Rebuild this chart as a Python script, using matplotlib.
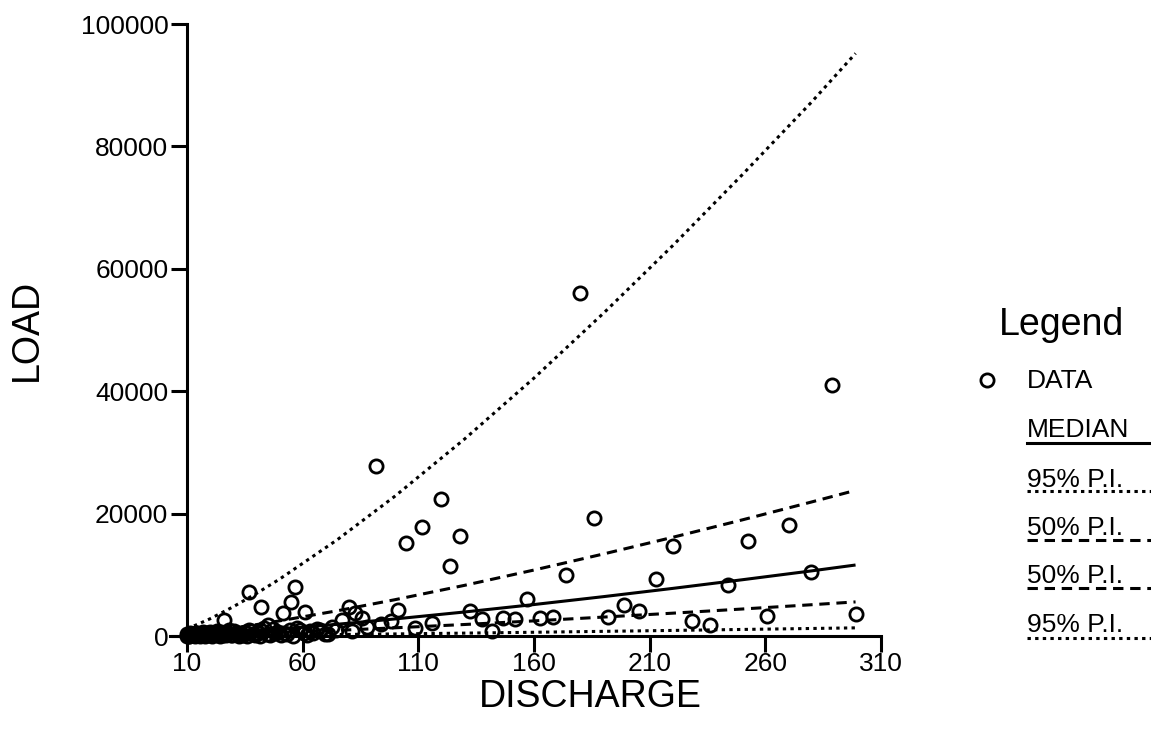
import matplotlib
matplotlib.use('Agg')
import matplotlib.pyplot as plt
from matplotlib.lines import Line2D

plt.rcParams['font.family'] = ['Liberation Sans', 'DejaVu Sans']

# observations (discharge, load)
discharge = [179.9, 289.0, 91.6, 119.7, 111.7, 104.5, 128.0, 123.7, 185.8, 173.8,
             220.2, 252.4, 270.1, 279.6, 299.2, 260.9, 244.0, 212.7, 205.5, 198.9,
             192.1, 168.1, 162.6, 156.9, 151.8, 146.7, 141.7, 137.4, 132.3, 115.8,
             108.6, 101.2, 98.0, 93.7, 88.0, 85.5, 82.6, 79.9, 77.0, 56.7,
             55.0, 61.0, 51.6, 36.8, 42.0, 26.0, 45.1, 228.2, 236.1, 81.2]
load = [56100, 41000, 27780, 22340, 17860, 15250, 16340, 11440, 19330, 9890,
        14710, 15520, 18090, 10510, 3590, 3270, 8330, 9260, 4085, 5065,
        3055, 3055, 2890, 6000, 2780, 2890, 820, 2700, 4130, 2075,
        1360, 4250, 2450, 1960, 1390, 2990, 3810, 4790, 2610, 8000,
        5500, 3920, 3680, 7110, 4660, 2610, 1800, 2420, 1800, 870]

# low-flow samples packed against the origin
low_discharge = [10.2, 10.5, 10.9, 11.3, 11.8, 12.4, 13.0, 13.6, 14.3, 15.0,
                 15.8, 16.5, 17.3, 18.2, 19.0, 20.1, 21.3, 22.5, 23.6, 24.8,
                 26.2, 27.5, 28.9, 30.4, 31.8, 33.5, 35.2, 36.9, 38.7, 40.6,
                 42.5, 44.7, 47.0, 49.3, 52.0, 54.6, 57.5, 60.4, 63.2, 66.0,
                 69.5, 72.8,
                 10.0, 10.7, 11.5, 12.2, 13.3, 14.0, 14.8, 15.5, 16.9, 17.8,
                 18.6, 19.5, 20.7, 21.9, 23.0, 24.2, 25.5, 26.8, 28.2, 29.6,
                 31.1, 32.6, 34.3, 35.9, 37.7, 39.5, 41.5, 43.5, 45.8, 48.0,
                 50.5, 53.2, 56.0, 58.8, 61.8, 64.5, 67.5, 71.0, 74.5]
low_load = [80, 150, 60, 220, 120, 300, 90, 180, 410, 140,
            260, 520, 200, 350, 110, 600, 280, 450, 170, 700,
            330, 520, 240, 810, 420, 300, 620, 950, 380, 520,
            760, 300, 1100, 650, 420, 900, 1300, 550, 820, 1200,
            400, 1500,
            300, 20, 450, 250, 10, 550, 330, 50, 640, 30,
            480, 260, 60, 380, 800, 40, 150, 230, 900, 100,
            560, 50, 200, 40, 880, 150, 60, 1300, 200, 480,
            90, 300, 60, 900, 200, 500, 1000, 250, 900]

# fitted curves
curve_q = [10, 20, 30, 40, 50, 75, 100, 130, 160, 190, 220, 250, 280, 299]
median = [140, 344, 583, 848, 1133, 1920, 2790, 3925, 5140, 6430, 7780, 9190, 10640, 11600]
pi50_hi = [321, 773, 1293, 1861, 2470, 4125, 5940, 8280, 10780, 13400, 16130, 18970, 21900, 23800]
pi50_lo = [67, 165, 280, 407, 545, 920, 1340, 1880, 2470, 3090, 3730, 4410, 5110, 5570]
pi95_hi = [1150, 2820, 4780, 6950, 9290, 15740, 22880, 32190, 42150, 52730, 63800, 75360, 87250, 95200]
pi95_lo = [20, 45, 75, 110, 140, 240, 340, 470, 610, 760, 910, 1070, 1230, 1330]

x_ticks = [10, 60, 110, 160, 210, 260, 310]
y_ticks = [0, 20000, 40000, 60000, 80000, 100000]
legend_labels = ['DATA', 'MEDIAN', '95% P.I.', '50% P.I.', '50% P.I.', '95% P.I.']

W, H = 1151, 731
fig = plt.figure(figsize=(W / 100, H / 100), dpi=100)
ax = fig.add_axes([170 / W, 1 - 636 / H, (881 - 170) / W, (636 - 24) / H])

lw = 2.2
dash = (0, (3.4, 2.2))
dot = (0, (1.1, 1.4))
mk = dict(marker='o', ms=9.5, mfc='none', mec='black', mew=2.0, ls='none')

ax.plot(curve_q, median, color='black', lw=lw, solid_capstyle='butt')
ax.plot(curve_q, pi50_hi, color='black', lw=lw, ls=dash)
ax.plot(curve_q, pi50_lo, color='black', lw=lw, ls=dash)
ax.plot(curve_q, pi95_hi, color='black', lw=lw, ls=dot)
ax.plot(curve_q, pi95_lo, color='black', lw=lw, ls=dot)
ax.plot(discharge + low_discharge, load + low_load, clip_on=False, zorder=3, **mk)

ax.set_xlim(2.65, 310)
ax.set_ylim(0, 100000)
for s in ['top', 'right']:
    ax.spines[s].set_visible(False)
ax.spines['left'].set_position(('data', 10))
for s in ['left', 'bottom']:
    ax.spines[s].set_linewidth(2.2)
ax.set_xticks(x_ticks)
ax.set_xticklabels([str(v) for v in x_ticks])
ax.set_yticks(y_ticks)
ax.set_yticklabels([str(v) for v in y_ticks])
ax.tick_params(length=11.5, width=2.2, labelsize=19, pad=2, direction='out')
ax.tick_params(axis='x', pad=0)

fig.text(27 / W, 1 - 330 / H, 'LOAD', rotation=90, fontsize=27, ha='center', va='center')
fig.text(590 / W, 1 - 707 / H, 'DISCHARGE', fontsize=27, ha='center', va='baseline')

# legend drawn by hand in the Prism style (label above the line sample)
fig.text(1061 / W, 1 - 335 / H, 'Legend', fontsize=27, ha='center', va='baseline')
fig.add_artist(Line2D([987 / W], [1 - 380 / H], transform=fig.transFigure, **mk))
fig.text(1027 / W, 1 - 388 / H, legend_labels[0], fontsize=19, ha='left', va='baseline')
styles = ['-', dot, dash, dash, dot]
text_y = [437, 487, 535, 583, 632]
line_y = [443, 490.5, 540.3, 588.3, 638.3]
for lab, st, ty, ly in zip(legend_labels[1:], styles, text_y, line_y):
    fig.text(1027 / W, 1 - ty / H, lab, fontsize=19, ha='left', va='baseline')
    fig.add_artist(Line2D([1027 / W, 1.0], [1 - ly / H] * 2, transform=fig.transFigure,
                          color='black', lw=lw, ls=st))

fig.savefig('out.png', dpi=100)
